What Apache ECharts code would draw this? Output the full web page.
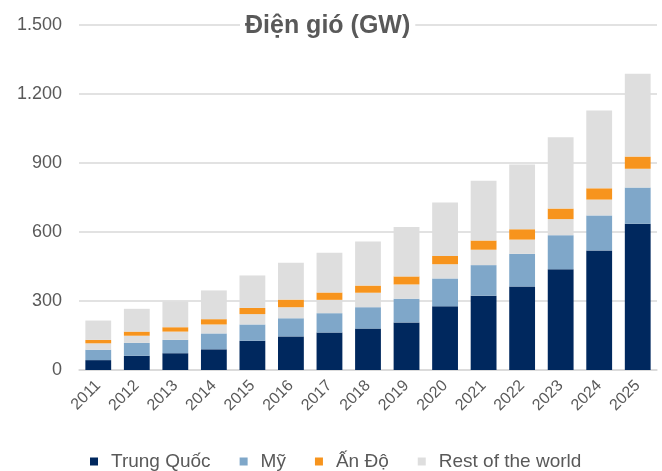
<!DOCTYPE html>
<html>
<head>
<meta charset="utf-8">
<script src="https://cdn.jsdelivr.net/npm/echarts@6/dist/echarts.min.js"></script>
<style>
  html, body { margin: 0; padding: 0; background: #fff; }
  #chart { width: 662px; height: 471px; }
</style>
</head>
<body>
<div id="chart"></div>
<script>
// số liệu (GW)
var years = ["2011", "2012", "2013", "2014", "2015", "2016", "2017", "2018",
  "2019", "2020", "2021", "2022", "2023", "2024", "2025"];
var china = [43, 62, 73, 90, 127, 146, 163, 180, 207, 277, 323, 363, 438, 520, 636];
var usa = [45, 56, 58, 69, 71, 79, 84, 93, 103, 121, 133, 142, 148, 152, 157];
// phần xám nằm giữa Mỹ và Ấn Độ
var restLow = [28, 31, 36, 39, 45, 48, 58, 63, 62, 62, 67, 62, 70, 69, 82];
var india = [15, 18, 19, 23, 27, 33, 32, 31, 35, 36, 40, 45, 46, 49, 53];
var restTop = [84, 99, 112, 125, 141, 160, 173, 192, 215, 232, 260, 281, 310, 338, 360];
var yTicks = [0, 300, 600, 900, 1200, 1500];

var txt = "#595959";
var font = "Liberation Sans, Arial, sans-serif";

function bar(name, data, color) {
  return {
    name: name,
    type: "bar",
    stack: "total",
    data: data,
    barCategoryGap: "33%",
    itemStyle: { color: color },
    emphasis: { disabled: true }
  };
}

var chart = echarts.init(document.getElementById("chart"));
chart.setOption({
  animation: false,
  textStyle: { fontFamily: font },
  title: {
    text: "Điện gió (GW)",
    left: 240,
    top: 12,
    padding: [2, 5],
    backgroundColor: "#fff",
    textStyle: { color: txt, fontSize: 25, fontWeight: "bold", fontFamily: font }
  },
  legend: {
    data: ["Trung Quốc", "Mỹ", "Ấn Độ", "Rest of the world"],
    left: 85,
    top: 447,
    itemWidth: 8,
    itemHeight: 8,
    itemGap: 29,
    icon: "rect",
    textStyle: { color: txt, fontSize: 19, fontFamily: font, padding: [0, 0, 0, 8] }
  },
  grid: { left: 79, right: 5, top: 25, bottom: 101 },
  xAxis: {
    type: "category",
    data: years,
    axisLine: { lineStyle: { color: "#d9d9d9", width: 1.5 } },
    axisTick: { show: false },
    axisLabel: { rotate: 45, color: txt, fontSize: 16, margin: 13, fontFamily: font }
  },
  yAxis: {
    type: "value",
    min: yTicks[0],
    max: yTicks[yTicks.length - 1],
    interval: 300,
    axisLine: { show: false },
    axisTick: { show: false },
    splitLine: { lineStyle: { color: "#d9d9d9", width: 1.5 } },
    axisLabel: {
      color: txt, fontSize: 18, margin: 17, fontFamily: font,
      formatter: function (v) {
        return v.toString().replace(/\B(?=(\d{3})+(?!\d))/g, ".");
      }
    }
  },
  series: [
    bar("Trung Quốc", china, "#00285e"),
    bar("Mỹ", usa, "#7fa7c9"),
    bar("Rest of the world", restLow, "#dedede"),
    bar("Ấn Độ", india, "#f7941d"),
    bar("Rest of the world", restTop, "#dedede")
  ]
});
</script>
</body>
</html>
